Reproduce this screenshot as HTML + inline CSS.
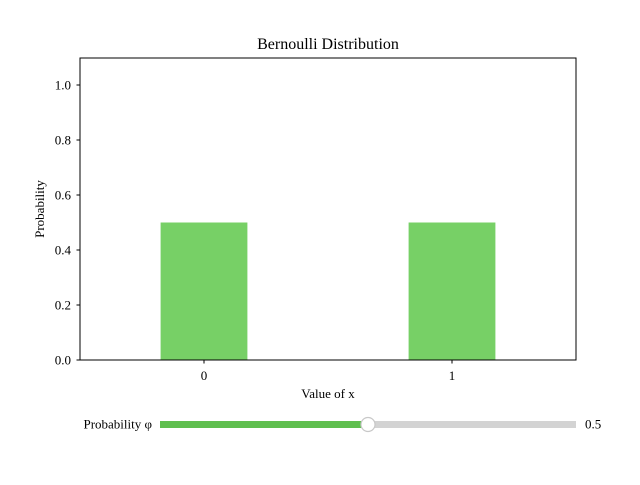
<!DOCTYPE html>
<html><head><meta charset="utf-8"><style>
body{margin:0;background:#fff}
svg text{font-family:"Liberation Serif","DejaVu Serif",serif;fill:#000}
</style></head><body>
<svg width="640" height="480" viewBox="0 0 640 480">
<rect width="640" height="480" fill="#fff"/>
<g id="bars"></g>
<rect x="80" y="58" width="496" height="302" fill="none" stroke="#000" stroke-width="1"/>
<g id="yticks" font-size="13"></g>
<g id="xticks" font-size="13"></g>
<text x="328" y="49" text-anchor="middle" font-size="16">Bernoulli Distribution</text>
<text x="328" y="398" text-anchor="middle" font-size="13">Value of x</text>
<text transform="translate(44,209) rotate(-90)" text-anchor="middle" font-size="13">Probability</text>
<g>
<text x="152" y="428.5" text-anchor="end" font-size="13">Probability φ</text>
<rect x="160" y="421" width="416" height="7" fill="#d3d3d3"/>
<rect id="sfill" x="160" y="421" width="208" height="7" fill="#5fbf4f"/>
<circle id="knob" cx="368" cy="424.5" r="7" fill="#fff" stroke="#c8c8c8" stroke-width="1.2"/>
<text id="sval" x="585" y="428.5" font-size="13">0.5</text>
</g>
</svg>
<script>
const categories = [0, 1];
const phi = 0.5;
const values = [1 - phi, phi];
const yTickLabels = ["0.0","0.2","0.4","0.6","0.8","1.0"];
const yTickValues = [0,0.2,0.4,0.6,0.8,1.0];
const NS="http://www.w3.org/2000/svg";
const xs = v => 80 + (v + 0.5) / 2 * 496;
const ys = v => 360 - v / 1.1 * 302.5;
const bw = 0.35 / 2 * 496;
const bars=document.getElementById('bars');
categories.forEach((c,i)=>{
  const r=document.createElementNS(NS,'rect');
  r.setAttribute('x',xs(c)-bw/2);r.setAttribute('y',ys(values[i]));
  r.setAttribute('width',bw);r.setAttribute('height',ys(0)-ys(values[i]));
  r.setAttribute('fill','#77d066');
  
  
  bars.appendChild(r);
});
const yt=document.getElementById('yticks');
yTickValues.forEach((v,i)=>{
  const l=document.createElementNS(NS,'line');
  l.setAttribute('x1',76.5);l.setAttribute('x2',80);l.setAttribute('y1',ys(v));l.setAttribute('y2',ys(v));l.setAttribute('stroke','#000');
  
  
  yt.appendChild(l);
  const t=document.createElementNS(NS,'text');
  t.setAttribute('x',71);t.setAttribute('y',ys(v)+4.5);t.setAttribute('text-anchor','end');t.textContent=yTickLabels[i];
  
  
  yt.appendChild(t);
});
const xt=document.getElementById('xticks');
categories.forEach(c=>{
  const l=document.createElementNS(NS,'line');
  l.setAttribute('x1',xs(c));l.setAttribute('x2',xs(c));l.setAttribute('y1',360);l.setAttribute('y2',363.5);l.setAttribute('stroke','#000');
  
  
  xt.appendChild(l);
  const t=document.createElementNS(NS,'text');
  t.setAttribute('x',xs(c));t.setAttribute('y',380);t.setAttribute('text-anchor','middle');t.textContent=String(c);
  
  
  xt.appendChild(t);
});
const kx=160+phi*416;
document.getElementById('sfill').setAttribute('width',kx-160);
document.getElementById('knob').setAttribute('cx',kx);
document.getElementById('sval').textContent=String(phi);
</script>
</body></html>
